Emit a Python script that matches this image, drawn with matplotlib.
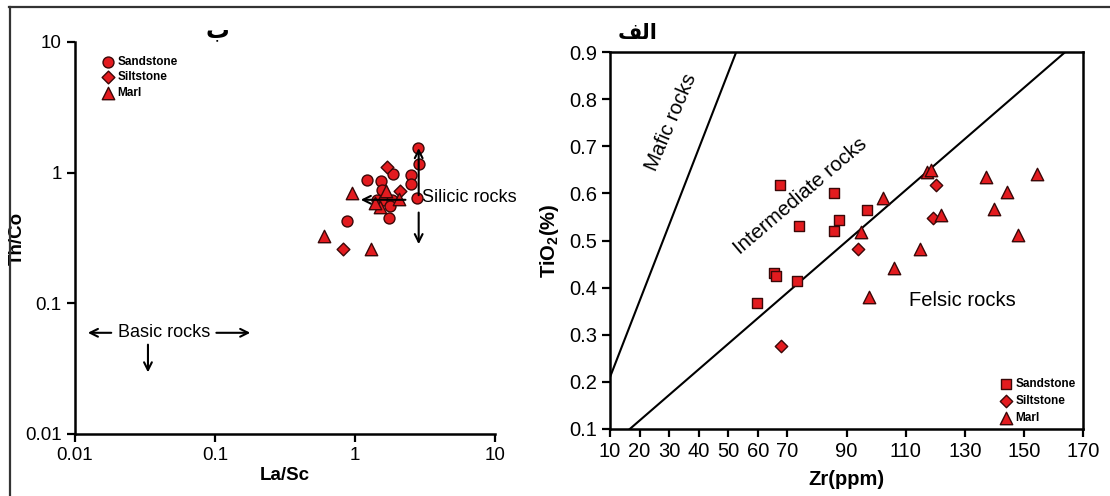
import matplotlib
matplotlib.use('Agg')
import matplotlib.pyplot as plt
from matplotlib.lines import Line2D

plt.rcParams['font.family'] = ['Liberation Sans', 'DejaVu Sans']
plt.rcParams['mathtext.fontset'] = 'custom'
plt.rcParams['mathtext.rm'] = 'Liberation Sans'
plt.rcParams['mathtext.bf'] = 'Liberation Sans:bold'

# ---- left panel (La/Sc vs Th/Co) ----
sand_lasc = [2.8, 2.85, 2.5, 2.5, 2.75, 1.22, 1.88, 1.53, 1.55, 1.43, 1.61, 1.83, 1.78, 1.76, 0.88]
sand_thco = [1.55, 1.17, 0.96, 0.82, 0.64, 0.88, 0.97, 0.86, 0.74, 0.62, 0.62, 0.62, 0.56, 0.45, 0.43]
silt_lasc = [1.7, 2.1, 0.82]
silt_thco = [1.1, 0.73, 0.26]
marl_lasc = [0.95, 1.67, 2.07, 1.5, 1.4, 0.6, 1.3]
marl_thco = [0.70, 0.72, 0.63, 0.55, 0.59, 0.33, 0.26]
log_ticks = [0.01, 0.1, 1, 10]
log_labels = ['0.01', '0.1', '1', '10']

# ---- right panel (Zr vs TiO2) ----
sand_zr = [67.5, 85.9, 73.9, 85.9, 87.4, 96.9, 65.5, 66.2, 73.4, 59.6]
sand_ti = [0.618, 0.600, 0.530, 0.521, 0.544, 0.564, 0.430, 0.425, 0.414, 0.367]
silt_zr = [120.3, 119.4, 93.8, 67.8]
silt_ti = [0.618, 0.548, 0.482, 0.277]
marl_zr = [117.1, 118.7, 102.2, 94.9, 121.9, 137.1, 144.4, 139.8, 148.1, 154.5, 114.9, 106.1, 97.5]
marl_ti = [0.645, 0.649, 0.590, 0.517, 0.554, 0.634, 0.603, 0.567, 0.511, 0.642, 0.481, 0.441, 0.380]
mafic_zr = [10, 52.7]
mafic_ti = [0.21, 0.9]
felsic_zr = [16.7, 164]
felsic_ti = [0.1, 0.9]
zr_ticks = [10, 20, 30, 40, 50, 60, 70, 90, 110, 130, 150, 170]
ti_ticks = [0.1, 0.2, 0.3, 0.4, 0.5, 0.6, 0.7, 0.8, 0.9]

red = '#e31b1f'
edge = '#3a0808'
W, H = 1110, 496

fig = plt.figure(figsize=(W / 100, H / 100), dpi=100)

# frame lines (top and left only are visible)
fig.add_artist(Line2D([9 / W, 1], [1 - 7 / H, 1 - 7 / H], transform=fig.transFigure, color='#333333', lw=1.6))
fig.add_artist(Line2D([10 / W, 10 / W], [0, 1 - 7 / H], transform=fig.transFigure, color='#333333', lw=1.6))

# ---------------- left ----------------
ax1 = fig.add_axes([75 / W, 1 - 434 / H, 420 / W, 392 / H])
ax1.set_xscale('log')
ax1.set_yscale('log')
ax1.set_xlim(0.01, 10)
ax1.set_ylim(0.01, 10)
ax1.scatter(sand_lasc, sand_thco, marker='o', s=62, c=red, edgecolors=edge, linewidths=1, label='Sandstone', zorder=3)
ax1.scatter(silt_lasc, silt_thco, marker='D', s=42, c=red, edgecolors=edge, linewidths=1, label='Siltstone', zorder=3)
ax1.scatter(marl_lasc, marl_thco, marker='^', s=80, c=red, edgecolors=edge, linewidths=1, label='Marl', zorder=3)

arr = dict(arrowstyle='->', lw=1.5, color='black', mutation_scale=14)
ax1.annotate('', xy=(2.85, 1.62), xytext=(2.85, 0.64), arrowprops=arr, zorder=4)
ax1.annotate('', xy=(1.05, 0.62), xytext=(2.4, 0.62), arrowprops=arr, zorder=4)
ax1.annotate('', xy=(2.85, 0.27), xytext=(2.85, 0.52), arrowprops=arr, zorder=4)
ax1.text(3.0, 0.65, 'Silicic rocks', fontsize=13, va='center', ha='left')

ax1.annotate('', xy=(0.0118, 0.0595), xytext=(0.019, 0.0595), arrowprops=arr)
ax1.annotate('', xy=(0.187, 0.0595), xytext=(0.0977, 0.0595), arrowprops=arr)
ax1.annotate('', xy=(0.0332, 0.0282), xytext=(0.0332, 0.0507), arrowprops=arr)
ax1.text(0.0436, 0.0600, 'Basic rocks', fontsize=13, va='center', ha='center')

ax1.set_xticks(log_ticks, log_labels)
ax1.set_yticks(log_ticks, log_labels)
ax1.minorticks_off()
ax1.tick_params(direction='out', length=6, width=1.6, labelsize=13.5)
for s in ['top', 'right']:
    ax1.spines[s].set_visible(False)
for s in ['left', 'bottom']:
    ax1.spines[s].set_linewidth(1.8)
ax1.set_xlabel('La/Sc', fontsize=13.5, fontweight='bold')
ax1.set_ylabel('Th/Co', fontsize=13.5, fontweight='bold')
ax1.xaxis.set_label_coords(0.5, -0.083)
ax1.yaxis.set_label_coords(-0.117, 0.5)
ax1.legend(loc='upper left', bbox_to_anchor=(0.05, 0.98), frameon=False,
           prop={'size': 8.5, 'weight': 'bold'},
           handlelength=1.0, handletextpad=0.3, labelspacing=0.3, borderpad=0)
fig.text(217 / W, 1 - 30 / H, '\u0628', fontsize=17, fontweight='bold', ha='center', va='center',
         family=['DejaVu Sans'])

# ---------------- right ----------------
ax2 = fig.add_axes([610 / W, 1 - 429 / H, 473 / W, 377 / H])
ax2.set_xlim(10, 170)
ax2.set_ylim(0.1, 0.9)
ax2.plot(mafic_zr, mafic_ti, color='black', lw=1.5)
ax2.plot(felsic_zr, felsic_ti, color='black', lw=1.5)
ax2.scatter(sand_zr, sand_ti, marker='s', s=44, c=red, edgecolors=edge, linewidths=1, label='Sandstone', zorder=3)
ax2.scatter(silt_zr, silt_ti, marker='D', s=40, c=red, edgecolors=edge, linewidths=1, label='Siltstone', zorder=3)
ax2.scatter(marl_zr, marl_ti, marker='^', s=80, c=red, edgecolors=edge, linewidths=1, label='Marl', zorder=3)

ax2.text(30.6, 0.751, 'Mafic rocks', fontsize=14.8, rotation=67, ha='center', va='center', rotation_mode='anchor')
ax2.text(74.3, 0.594, 'Intermediate rocks', fontsize=14.8, rotation=40.5, ha='center', va='center', rotation_mode='anchor')
ax2.text(111, 0.372, 'Felsic rocks', fontsize=14.5, ha='left', va='center')

ax2.set_xticks(zr_ticks)
ax2.set_yticks(ti_ticks)
ax2.tick_params(direction='out', length=6, width=1.6, labelsize=14.5)
for s in ax2.spines.values():
    s.set_linewidth(1.8)
ax2.set_xlabel('Zr(ppm)', fontsize=14.5, fontweight='bold', labelpad=6)
ax2.set_ylabel(r'TiO$_\mathbf{2}$(%)', fontsize=14.5, fontweight='bold')
ax2.yaxis.set_label_coords(-0.104, 0.5)
ax2.legend(loc='lower right', bbox_to_anchor=(1.0, -0.005), frameon=False,
           prop={'size': 8.5, 'weight': 'bold'},
           handlelength=1.0, handletextpad=0.35, labelspacing=0.42, borderaxespad=0.2)
fig.text(638 / W, 1 - 33 / H, '\ufed2\ufedf\ufe8d', fontsize=15, fontweight='bold', ha='center', va='center',
         family=['DejaVu Sans'])

fig.savefig('out.png', dpi=100)
